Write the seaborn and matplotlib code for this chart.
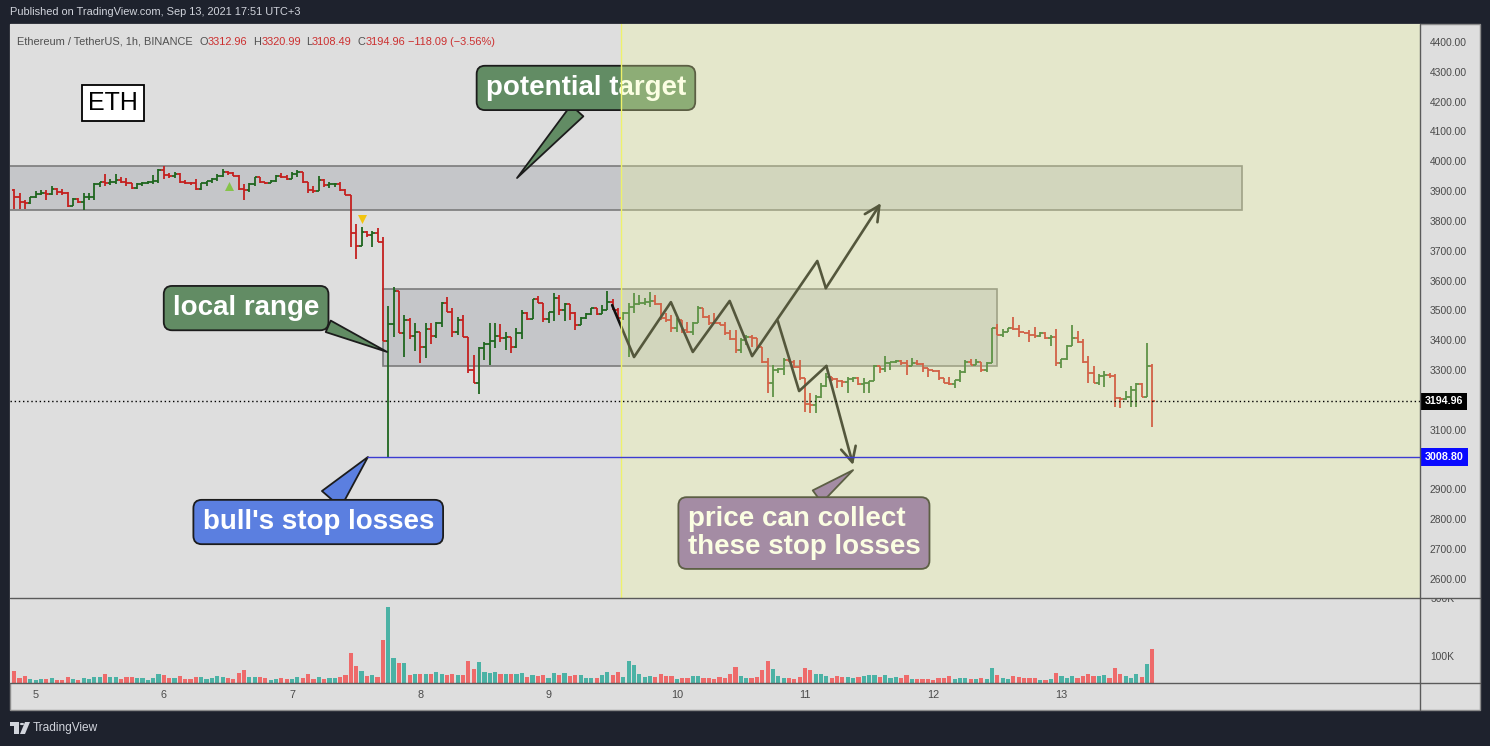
import numpy as np
import pandas as pd
import seaborn as sns
import matplotlib.pyplot as plt
import matplotlib.transforms as mtransforms
from matplotlib.patches import Rectangle, Circle, Polygon
from matplotlib.lines import Line2D

# ---- hourly bars, ETH/USDT, first bar = Sep 4 20:00 (bar index -4, Sep 5 00:00 = 0)
first_bar = -4
first_open = 3904
closes = [3882, 3863, 3859, 3882,
          3891, 3893, 3889, 3906, 3898, 3895, 3850, 3873, 3865, 3879,
          3882, 3924, 3930, 3926, 3932, 3937, 3932, 3926, 3910, 3923,
          3928, 3931, 3934, 3971, 3954, 3951, 3958, 3932, 3928, 3926,
          3907, 3926, 3933, 3940, 3951, 3964, 3960, 3952, 3907, 3904,
          3923, 3946, 3930, 3926, 3935, 3951, 3946, 3941, 3958, 3964,
          3930, 3904, 3902, 3937, 3921, 3923, 3924, 3904, 3887, 3759,
          3716, 3764, 3753, 3761, 3731, 3399, 3455, 3566, 3423, 3468,
          3414, 3429, 3376, 3437, 3414, 3459, 3526, 3496, 3429, 3468,
          3412, 3300, 3258, 3373, 3388, 3399, 3414, 3407, 3412, 3376,
          3423, 3490, 3470, 3537, 3524, 3470, 3496, 3541, 3502, 3522,
          3490, 3451, 3474, 3488, 3507, 3488, 3502, 3530, 3502, 3474,
          3490, 3513, 3522, 3526, 3530, 3533, 3522, 3474, 3468, 3440,
          3468, 3435, 3429, 3457, 3507, 3479, 3459, 3457, 3451, 3423,
          3403, 3368, 3401, 3410, 3407, 3379, 3328, 3256, 3301, 3305,
          3334, 3328, 3310, 3273, 3187, 3183, 3209, 3247, 3278, 3269,
          3265, 3261, 3269, 3273, 3254, 3258, 3263, 3314, 3303, 3323,
          3327, 3332, 3323, 3314, 3325, 3321, 3306, 3301, 3297, 3275,
          3258, 3254, 3267, 3295, 3328, 3317, 3329, 3301, 3323, 3440,
          3418, 3429, 3440, 3437, 3427, 3423, 3418, 3415, 3423, 3407,
          3410, 3323, 3336, 3381, 3407, 3396, 3329, 3292, 3258, 3280,
          3285, 3280, 3206, 3202, 3209, 3234, 3254, 3211, 3312.96, 3194.96]
highs = [3906, 3895, 3870, 3882,
         3902, 3904, 3904, 3917, 3910, 3906, 3898, 3876, 3876, 3893,
         3895, 3926, 3932, 3958, 3940, 3958, 3949, 3943, 3928, 3926,
         3932, 3935, 3954, 3973, 3984, 3960, 3965, 3960, 3937, 3932,
         3940, 3926, 3935, 3943, 3958, 3973, 3969, 3964, 3954, 3924,
         3926, 3949, 3949, 3932, 3937, 3954, 3960, 3954, 3965, 3971,
         3951, 3932, 3917, 3951, 3940, 3932, 3926, 3932, 3906, 3887,
         3789, 3779, 3768, 3768, 3775, 3745, 3515, 3578, 3566, 3485,
         3476, 3457, 3429, 3459, 3459, 3462, 3530, 3544, 3507, 3479,
         3485, 3412, 3351, 3379, 3395, 3457, 3459, 3455, 3429, 3412,
         3440, 3502, 3496, 3537, 3549, 3526, 3496, 3560, 3552, 3524,
         3518, 3496, 3479, 3490, 3510, 3507, 3518, 3566, 3537, 3507,
         3496, 3526, 3560, 3552, 3541, 3563, 3552, 3524, 3490, 3485,
         3474, 3468, 3462, 3462, 3515, 3507, 3485, 3490, 3462, 3462,
         3435, 3435, 3407, 3418, 3418, 3407, 3379, 3340, 3317, 3307,
         3340, 3345, 3334, 3334, 3273, 3222, 3217, 3256, 3289, 3278,
         3273, 3267, 3278, 3278, 3278, 3273, 3265, 3317, 3307, 3348,
         3328, 3334, 3334, 3334, 3340, 3334, 3323, 3306, 3301, 3301,
         3273, 3278, 3267, 3301, 3334, 3336, 3336, 3329, 3329, 3440,
         3455, 3437, 3440, 3477, 3451, 3427, 3435, 3444, 3427, 3427,
         3418, 3437, 3336, 3384, 3451, 3432, 3403, 3347, 3314, 3287,
         3298, 3289, 3287, 3211, 3231, 3247, 3256, 3256, 3392, 3320.99]
lows = [3839, 3839, 3839, 3856,
        3876, 3887, 3870, 3887, 3887, 3887, 3848, 3861, 3861, 3837,
        3870, 3870, 3915, 3917, 3921, 3924, 3926, 3917, 3906, 3906,
        3917, 3923, 3923, 3926, 3940, 3943, 3943, 3928, 3924, 3921,
        3904, 3904, 3917, 3928, 3935, 3949, 3954, 3951, 3904, 3870,
        3898, 3917, 3926, 3923, 3926, 3932, 3943, 3937, 3943, 3949,
        3926, 3893, 3895, 3917, 3913, 3910, 3915, 3902, 3887, 3712,
        3672, 3716, 3748, 3714, 3731, 3399, 3010, 3412, 3423, 3343,
        3403, 3365, 3323, 3340, 3388, 3407, 3446, 3496, 3412, 3418,
        3412, 3289, 3258, 3220, 3334, 3317, 3373, 3395, 3368, 3356,
        3373, 3403, 3468, 3470, 3524, 3462, 3459, 3466, 3485, 3466,
        3468, 3435, 3451, 3470, 3485, 3485, 3490, 3502, 3502, 3468,
        3468, 3345, 3490, 3518, 3518, 3513, 3518, 3468, 3462, 3429,
        3429, 3423, 3423, 3418, 3457, 3474, 3451, 3457, 3451, 3418,
        3401, 3356, 3356, 3384, 3379, 3373, 3323, 3222, 3211, 3289,
        3284, 3328, 3306, 3267, 3161, 3155, 3155, 3206, 3245, 3262,
        3239, 3245, 3222, 3261, 3250, 3222, 3222, 3278, 3289, 3295,
        3301, 3323, 3317, 3284, 3317, 3317, 3295, 3278, 3295, 3267,
        3256, 3250, 3239, 3261, 3289, 3317, 3317, 3295, 3295, 3323,
        3418, 3410, 3429, 3434, 3412, 3423, 3396, 3407, 3410, 3403,
        3381, 3314, 3306, 3334, 3381, 3390, 3323, 3258, 3256, 3250,
        3245, 3273, 3178, 3172, 3200, 3178, 3178, 3209, 3209, 3108.49]
# volume in thousands
volume_k = [40, 18, 25, 15,
            11, 15, 15, 18, 11, 11, 22, 15, 11, 18,
            15, 22, 22, 32, 22, 22, 15, 22, 22, 18,
            18, 11, 18, 32, 29, 18, 18, 25, 15, 15,
            22, 22, 15, 18, 25, 22, 18, 15, 36, 46,
            22, 22, 22, 18, 11, 15, 18, 15, 15, 22,
            18, 32, 15, 22, 15, 18, 18, 22, 29, 105,
            60, 42, 25, 29, 22, 149, 263, 87, 70, 70,
            29, 32, 32, 32, 32, 39, 32, 29, 32, 29,
            29, 77, 49, 74, 39, 36, 39, 32, 32, 32,
            32, 36, 22, 29, 25, 29, 18, 36, 29, 36,
            25, 29, 29, 18, 18, 18, 29, 39, 29, 39,
            21, 77, 63, 32, 22, 25, 22, 32, 25, 25,
            15, 18, 18, 25, 25, 18, 18, 15, 22, 18,
            32, 56, 25, 18, 18, 22, 46, 77, 49, 25,
            18, 18, 15, 22, 53, 46, 32, 32, 25, 18,
            25, 22, 22, 18, 22, 25, 29, 29, 22, 29,
            18, 22, 18, 29, 15, 15, 15, 15, 11, 18,
            18, 25, 15, 18, 18, 15, 15, 18, 15, 53,
            29, 18, 15, 25, 22, 18, 18, 18, 11, 11,
            15, 36, 25, 18, 25, 18, 25, 32, 25, 25,
            29, 18, 53, 32, 25, 18, 32, 22, 67, 118]

day_ticks = [0, 24, 48, 72, 96, 120, 144, 168, 192]
day_labels = ['5', '6', '7', '8', '9', '10', '11', '12', '13']
price_ticks = [2600, 2700, 2800, 2900, 3100, 3300, 3400, 3500, 3600,
               3700, 3800, 3900, 4000, 4100, 4200, 4300, 4400]
volume_ticks = [100, 300]
last_price = 3194.96
stop_level = 3008.80

# drawings (bar index, price)
top_zone = (-10, 225.8, 3837, 3984)
local_zone = (65.0, 179.9, 3314, 3572)
future_start = 109.6
stop_line_start = 62
path_up_i = [107.9, 112.0, 118.9, 123.0, 129.9, 134.1, 146.3, 147.9, 158.2]
path_up_p = [3518, 3344, 3528, 3361, 3532, 3347, 3666, 3575, 3860]
path_dn_i = [138.9, 142.9, 148.0, 153.0]
path_dn_p = [3465, 3230, 3314, 2982]
sig_up = (36.2, 3917)
sig_dn = (61.1, 3807)

# ---------------------------------------------------------------
sns.set_theme(style="white")
plt.rcParams['font.family'] = ['Liberation Sans', 'DejaVu Sans']

W, H = 1490, 746
fig = plt.figure(figsize=(14.9, 7.46), dpi=100)
fig.patch.set_facecolor('#1e222d')


def fx(x):
    return x / W


def fy(y):
    return 1 - y / H


fig.add_artist(Rectangle((fx(10), fy(710)), fx(1480) - fx(10), fy(24) - fy(710),
                         transform=fig.transFigure, fc='#dedede', ec='#8c8c8c',
                         lw=1, zorder=0))

ax = fig.add_axes([fx(10), fy(598), fx(1420) - fx(10), fy(24) - fy(598)])
vax = fig.add_axes([fx(10), fy(683), fx(1420) - fx(10), fy(598) - fy(683)], sharex=ax)
vstrip = fig.add_axes([fx(1420), fy(683), fx(1480) - fx(1420), fy(598) - fy(683)])

# OHLC bars
idx = np.arange(first_bar, first_bar + len(closes))
c = np.array(closes, dtype=float)
o = np.concatenate([[first_open], c[:-1]])
o[-1] = 3312.96
hi = np.maximum(np.array(highs, dtype=float), np.maximum(o, c))
lo = np.minimum(np.array(lows, dtype=float), np.minimum(o, c))
up = c >= o
cols = np.where(up, '#1f661f', '#c4201f')
ax.vlines(idx, lo, hi, colors=cols, lw=1.3, zorder=2)
ax.hlines(o, idx - 0.5, idx, colors=cols, lw=1.3, zorder=2)
ax.hlines(c, idx, idx + 0.5, colors=cols, lw=1.3, zorder=2)

# volume
vol_df = pd.DataFrame({'bar': idx, 'volume': volume_k,
                       'dir': np.where(up, 'up', 'down')})
sns.barplot(data=vol_df, x='bar', y='volume', hue='dir',
            palette={'up': '#4bb2a5', 'down': '#ee6a6a'}, native_scale=True,
            dodge=False, saturation=1, linewidth=0, errorbar=None,
            legend=False, width=0.78, ax=vax)

# range boxes
for z in (top_zone, local_zone):
    ax.add_patch(Rectangle((z[0], z[2]), z[1] - z[0], z[3] - z[2],
                           fc=(0.60, 0.61, 0.64, 0.35), ec='#7b7b7b', lw=1.2, zorder=1))

# signals
ax.scatter([sig_up[0]], [sig_up[1]], marker='^', s=42, c='#86c34a', lw=0, zorder=3)
ax.scatter([sig_dn[0]], [sig_dn[1]], marker='v', s=42, c='#f2c40f', lw=0, zorder=3)

# projected paths
for pi, pp in ((path_up_i, path_up_p), (path_dn_i, path_dn_p)):
    ax.plot(pi[:-1], pp[:-1], color='#111111', lw=1.9, zorder=3)
    ax.annotate('', xy=(pi[-1], pp[-1]), xytext=(pi[-2], pp[-2]), zorder=3,
                arrowprops=dict(arrowstyle='->,head_length=0.9,head_width=0.45',
                                color='#111111', lw=1.9, shrinkA=0, shrinkB=0))


def callout(text, xy_box, xy_tip, fc, relpos, tail, ha='center'):
    ax.annotate(text, xy=xy_tip, xytext=xy_box, ha=ha, va='center',
                multialignment='left', fontsize=20, fontweight='bold',
                color='white', linespacing=1.07, zorder=3,
                bbox=dict(boxstyle='round,pad=0.33,rounding_size=0.3', fc=fc,
                          ec='#1c1c1c', lw=1.3),
                arrowprops=dict(arrowstyle=f'wedge,tail_width={tail}', fc=fc,
                                ec='#1c1c1c', lw=1.3, relpos=relpos,
                                shrinkA=0, shrinkB=0))


callout('potential target', (103.0, 4246), (90.1, 3944), '#628c64', (0.5, 0.0), 0.6)
callout('local range', (39.4, 3508), (65.8, 3361), '#628c64', (0.93, 0.12), 0.45)
callout("bull's stop losses", (52.9, 2791), (62.2, 3009), '#5b7fe0', (0.52, 1.0), 0.9)
callout('price can collect\nthese stop losses', (143.8, 2754), (153.0, 2965),
        '#835ca5', (0.5, 1.0), 0.55)

ax.text(14.5, 4195, 'ETH', fontsize=18, ha='center', va='center', color='black',
        zorder=3, bbox=dict(boxstyle='square,pad=0.25', fc='white', ec='black', lw=1.3))

# forward-looking zone overlay
ax.axvspan(future_start, 400, fc='#f2fca2', alpha=0.3, lw=0, zorder=4)
ax.axvline(future_start, color='#eef26a', lw=1, zorder=4.1)

# price lines
ax.axhline(last_price, color='black', lw=1, ls=(0, (1, 2)), zorder=5)
ax.hlines(stop_level, stop_line_start, 400, color='#3c3cd2', lw=1, zorder=5)

blend = mtransforms.blended_transform_factory(ax.transAxes, ax.transData)
ax.text(1.0035, last_price, f'{last_price:.2f}', transform=blend, ha='left', va='center',
        color='white', fontweight='bold', fontsize=7.7, clip_on=False, zorder=7,
        bbox=dict(boxstyle='square,pad=0.35', fc='black', ec='none'))
ax.text(1.0035, stop_level, f'{stop_level:.2f}', transform=blend, ha='left', va='center',
        color='white', fontweight='bold', fontsize=7.7, clip_on=False, zorder=7,
        bbox=dict(boxstyle='square,pad=0.35', fc='#0a0aff', ec='none'))

# axes styling
for a in (ax, vax):
    a.set_facecolor('#dedede')
    for s in a.spines.values():
        s.set_visible(False)
    a.set_xlabel('')
    a.set_ylabel('')
ax.set_xlim(-4.79, 259.1)
ax.set_ylim(2536.3, 4460.3)
vax.set_ylim(0, 293)
ax.yaxis.tick_right()
ax.set_yticks(price_ticks)
ax.set_yticklabels([f'{t:.2f}' for t in price_ticks])
ax.tick_params(axis='y', length=0, pad=7.2, labelsize=7.4, labelcolor='#4a4a4a')
ax.tick_params(axis='x', bottom=False, labelbottom=False)
vax.set_yticks([])
vax.set_xticks(day_ticks)
vax.set_xticklabels(day_labels)
vax.tick_params(axis='x', length=0, pad=5.4, labelsize=7.8, labelcolor='#4a4a4a')

# volume scale, top label half hidden under the pane border like the original
vstrip.set_ylim(0, 293)
vstrip.axis('off')
vblend = mtransforms.blended_transform_factory(vstrip.transAxes, vstrip.transData)
vshift = mtransforms.offset_copy(vblend, fig=fig, x=0, y=-3, units='dots')
for v in volume_ticks:
    vstrip.text(0.17, v, f'{v}K', transform=vshift, ha='left', va='center',
                fontsize=7.4, color='#4a4a4a', clip_on=True)

# pane separators
for (x0, y0, x1, y1) in ((10, 598, 1480, 598), (10, 683, 1480, 683), (1420, 24, 1420, 710)):
    fig.add_artist(Line2D([fx(x0), fx(x1)], [fy(y0), fy(y1)], transform=fig.transFigure,
                          color='#5a5a5a', lw=1, zorder=10))

# legend line
gray, red = '#505050', '#cc2f2f'
legend_bits = [(16.7, 'Ethereum / TetherUS, 1h, BINANCE', gray), (199, 'O', gray),
               (207.5, '3312.96', red), (253, 'H', gray), (261.5, '3320.99', red),
               (306, 'L', gray), (312, '3108.49', red), (358, 'C', gray),
               (366, '3194.96', red), (408, '\u2212118.09 (\u22123.56%)', red)]
for x, s, col in legend_bits:
    fig.text(fx(x), fy(42), s, color=col, fontsize=7.9, ha='left', va='center', zorder=11)

# header / footer
fig.text(fx(10), fy(12), 'Published on TradingView.com, Sep 13, 2021 17:51 UTC+3',
         color='#d1d4dc', fontsize=7.9, ha='left', va='center')
fig.text(fx(33), fy(728), 'TradingView', color='#d1d4dc', fontsize=8.6,
         ha='left', va='center')
logo = '#d1d4dc'
fig.add_artist(Rectangle((fx(10), fy(726)), fx(19) - fx(10), fy(722) - fy(726),
                         transform=fig.transFigure, fc=logo, ec='none'))
fig.add_artist(Rectangle((fx(14), fy(734)), fx(19) - fx(14), fy(722) - fy(734),
                         transform=fig.transFigure, fc=logo, ec='none'))
fig.add_artist(Circle((fx(22), fy(724)), 2.2 / W, transform=fig.transFigure, fc=logo, ec='none'))
fig.add_artist(Polygon([(fx(25), fy(722)), (fx(30), fy(722)), (fx(25), fy(734)), (fx(20), fy(734))],
                       transform=fig.transFigure, fc=logo, ec='none'))

plt.savefig('out.png', dpi=100, facecolor=fig.get_facecolor())
